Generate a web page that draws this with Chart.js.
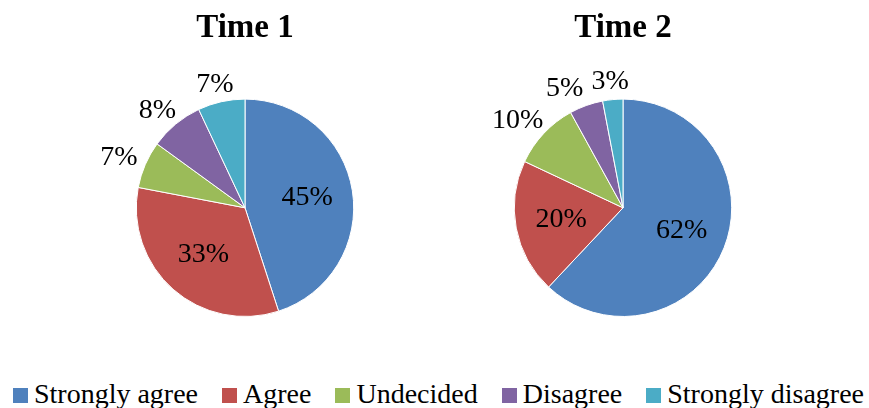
<!DOCTYPE html>
<html><head><meta charset="utf-8">
<script src="https://cdn.jsdelivr.net/npm/chart.js@4/dist/chart.umd.min.js"></script>
<style>
html,body{margin:0;padding:0;background:#fff;}
#wrap{position:relative;width:869px;height:408px;overflow:hidden;background:#fff;}
.cw{position:absolute;top:0;width:300px;height:330px;}
#c1w{left:95px;}
#c2w{left:473px;}
#legend{position:absolute;left:4px;top:380px;width:869px;display:flex;justify-content:center;
  font-family:"Liberation Serif",serif;font-size:28px;line-height:28px;color:#000;white-space:nowrap;}
.li{display:flex;align-items:center;margin:0 12px;}
.sw{width:15px;height:15px;margin-right:6px;margin-top:2px;}
</style></head>
<body>
<div id="wrap">
  <div class="cw" id="c1w"><canvas id="c1"></canvas></div>
  <div class="cw" id="c2w"><canvas id="c2"></canvas></div>
  <div id="legend"></div>
</div>
<script>
const categories = ['Strongly agree', 'Agree', 'Undecided', 'Disagree', 'Strongly disagree'];
const time1Values = [45, 33, 7, 8, 7];
const time2Values = [62, 20, 10, 5, 3];
const chartTitles = ['Time 1', 'Time 2'];
const sliceColors = ['#4F81BD', '#C0504D', '#9BBB59', '#8064A2', '#4BACC6'];

const labelFont = '28px "Liberation Serif", serif';

const pieLabels = {
  id: 'pieLabels',
  afterDatasetsDraw(chart) {
    const ctx = chart.ctx;
    const ds = chart.data.datasets[0];
    const meta = chart.getDatasetMeta(0);
    const total = ds.data.reduce((a, b) => a + b, 0);
    ctx.save();
    ctx.font = labelFont;
    ctx.fillStyle = '#000';
    ctx.textAlign = 'center';
    ctx.textBaseline = 'middle';
    const placed = [];
    for (let i = meta.data.length - 1; i >= 0; i--) {
      const arc = meta.data[i];
      const p = arc.getProps(['x', 'y', 'startAngle', 'endAngle', 'outerRadius'], true);
      const mid = (p.startAngle + p.endAngle) / 2;
      const dx = Math.cos(mid), dy = Math.sin(mid);
      const txt = Math.round(ds.data[i] / total * 100) + '%';
      const w = ctx.measureText(txt).width;
      let lx, ly;
      if (ds.data[i] / total >= 0.15) {
        const f = 0.58;
        lx = p.x + dx * p.outerRadius * f;
        ly = p.y + dy * p.outerRadius * f;
      } else {
        const hw = w / 2 + 4;
        const hh = 12;
        const g = 6;
        lx = p.x + dx * (p.outerRadius + g) + dx * hw;
        ly = p.y + dy * (p.outerRadius + g) + dy * hh;
        let moved = true, guard = 0;
        while (moved && guard++ < 50) {
          moved = false;
          for (const b of placed) {
            if (Math.abs(lx - b.x) < (w + b.w) / 2 + 8 && Math.abs(ly - b.y) < 22) {
              lx = b.x + (dx < 0 ? -1 : 1) * ((w + b.w) / 2 + 8);
              moved = true;
            }
          }
        }
      }
      placed.push({ x: lx, y: ly, w: w });
      ctx.fillText(txt, lx, ly);
    }
    ctx.restore();
  }
};

function makePie(id, title, values) {
  return new Chart(document.getElementById(id), {
    type: 'pie',
    data: {
      labels: categories,
      datasets: [{
        data: values,
        backgroundColor: sliceColors,
        borderColor: '#ffffff',
        borderWidth: 1
      }]
    },
    options: {
      responsive: true,
      maintainAspectRatio: false,
      animation: false,
      layout: { padding: { top: 0, bottom: 13, left: 0, right: 0 } },
      plugins: {
        legend: { display: false },
        tooltip: { enabled: false },
        title: {
          display: true,
          text: title,
          color: '#000',
          font: { family: '"Liberation Serif", serif', size: 33, weight: 'bold' },
          padding: { top: 9, bottom: 50 }
        }
      }
    },
    plugins: [pieLabels]
  });
}

makePie('c1', chartTitles[0], time1Values);
makePie('c2', chartTitles[1], time2Values);

const legend = document.getElementById('legend');
categories.forEach((c, i) => {
  const item = document.createElement('div');
  item.className = 'li';
  const sw = document.createElement('span');
  sw.className = 'sw';
  sw.style.background = sliceColors[i];
  const t = document.createElement('span');
  t.textContent = c;
  item.appendChild(sw);
  item.appendChild(t);
  legend.appendChild(item);
});
</script>
</body></html>
